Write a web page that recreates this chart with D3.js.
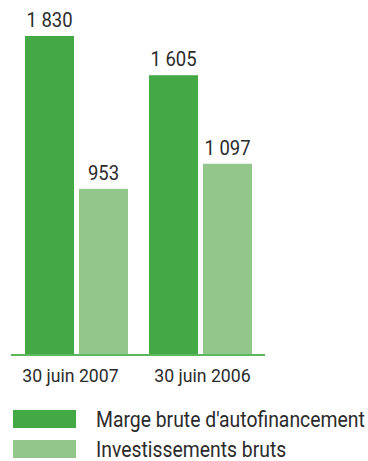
<!DOCTYPE html>
<html><head><meta charset="utf-8">
<script src="https://cdn.jsdelivr.net/npm/d3@7"></script>
<style>
html,body{margin:0;padding:0;background:#fff;}
svg{display:block;}
text{font-family:Roboto,"DejaVu Sans Condensed",sans-serif;fill:#2b2b2b;}
</style></head>
<body>
<svg id="chart" width="368" height="461"></svg>
<script>
const categories = ["30 juin 2007", "30 juin 2006"];
const seriesNames = ["Marge brute d'autofinancement", "Investissements bruts"];
const margeBrute = [1830, 1605];
const investissements = [953, 1097];
const valueLabels = [["1 830", "953"], ["1 605", "1 097"]];
const colors = ["#44a845", "#93c68b"];
const squeeze = 0.88; // condensed look

const svg = d3.select("#chart");
const x0 = d3.scaleBand().domain(categories).range([25, 252]).paddingInner(21/124).paddingOuter(0);
const x1 = d3.scaleBand().domain(seriesNames).range([0, x0.bandwidth()]).paddingInner(5/54).paddingOuter(0);
const y = d3.scaleLinear().domain([0, 1830]).range([355, 36]);

const rows = categories.map((c, i) => ({
  cat: c,
  vals: [
    {s: seriesNames[0], v: margeBrute[i], label: valueLabels[i][0], ci: 0},
    {s: seriesNames[1], v: investissements[i], label: valueLabels[i][1], ci: 1}
  ]
}));

const g = svg.selectAll("g.grp").data(rows).join("g").attr("class", "grp")
  .attr("transform", d => `translate(${x0(d.cat)},0)`);
g.selectAll("rect").data(d => d.vals).join("rect")
  .attr("x", d => x1(d.s)).attr("width", x1.bandwidth())
  .attr("y", d => y(d.v)).attr("height", d => y(0) - y(d.v))
  .attr("fill", d => colors[d.ci]);
g.selectAll("text.val").data(d => d.vals).join("text").attr("class", "val")
  .attr("transform", d => `translate(${x1(d.s) + x1.bandwidth()/2},${y(d.v) - 9}) scale(${squeeze},1)`)
  .attr("text-anchor", "middle").attr("font-size", 21)
  .text(d => d.label);

// axis
const axis = svg.append("g").attr("transform", `translate(0,${y(0)})`)
  .call(d3.axisBottom(x0).tickSize(0).tickPadding(0));
axis.select(".domain").remove();
axis.append("line").attr("x1", 11).attr("x2", 265).attr("y1", 0).attr("y2", 0)
  .attr("stroke", "#5cb85c").attr("stroke-width", 2);
axis.selectAll(".tick text").attr("font-size", 19).attr("fill", "#2b2b2b")
  .attr("font-family", "Roboto, sans-serif")
  .attr("dy", null).attr("y", 0)
  .attr("transform", (d, i) => `translate(${i === 0 ? -6 : 2},27) scale(0.93,1)`);

// legend
const leg = svg.append("g").selectAll("g").data(seriesNames).join("g")
  .attr("transform", (d, i) => `translate(13,${410 + i*30})`);
leg.append("rect").attr("width", 63).attr("height", 18).attr("fill", (d, i) => colors[i]);
leg.append("text").attr("transform", `translate(83,17) scale(${squeeze},1)`)
  .attr("font-size", 22).text(d => d);
</script>
</body></html>
